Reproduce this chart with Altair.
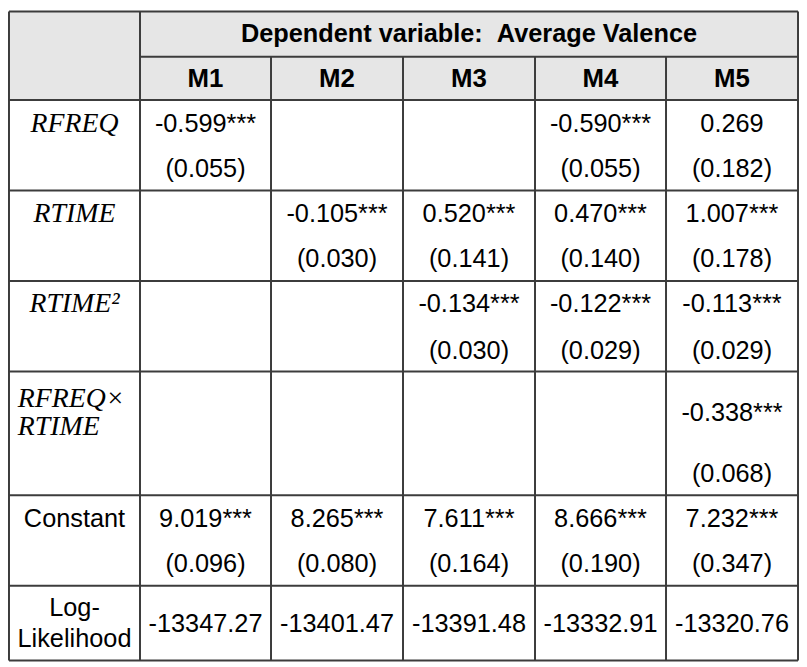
import altair as alt
import pandas as pd

# ---------------- data ----------------
MODELS = ["M1", "M2", "M3", "M4", "M5"]
DEPVAR = "Dependent variable:\u00a0\u00a0Average Valence"
ROW_LABELS = ["RFREQ", "RTIME", "RTIME²", "RFREQ×\nRTIME", "Constant", "Log-\nLikelihood"]
RFREQ_COEF = ["-0.599***", "", "", "-0.590***", "0.269"]
RFREQ_SE = ["(0.055)", "", "", "(0.055)", "(0.182)"]
RTIME_COEF = ["", "-0.105***", "0.520***", "0.470***", "1.007***"]
RTIME_SE = ["", "(0.030)", "(0.141)", "(0.140)", "(0.178)"]
RTIME2_COEF = ["", "", "-0.134***", "-0.122***", "-0.113***"]
RTIME2_SE = ["", "", "(0.030)", "(0.029)", "(0.029)"]
INTER_COEF = ["", "", "", "", "-0.338***"]
INTER_SE = ["", "", "", "", "(0.068)"]
CONST_COEF = ["9.019***", "8.265***", "7.611***", "8.666***", "7.232***"]
CONST_SE = ["(0.096)", "(0.080)", "(0.164)", "(0.190)", "(0.347)"]
LOGLIK = ["-13347.27", "-13401.47", "-13391.48", "-13332.91", "-13320.76"]

# ---------------- layout (table geometry in layout units) ----------------
COL_EDGES = [2, 135, 268, 402, 536, 669, 803]
ROW_EDGES = [2, 48, 92, 184, 276, 368, 494, 586, 662]
COL_CENTERS = [(COL_EDGES[i] + COL_EDGES[i + 1]) / 2 for i in range(6)]

cells = []
cells.append(dict(x=(COL_EDGES[1] + COL_EDGES[6]) / 2, y=25, text=DEPVAR, kind="head"))
for i, m in enumerate(MODELS):
    cells.append(dict(x=COL_CENTERS[i + 1], y=71, text=m, kind="mhead"))

row_specs = [
    (RFREQ_COEF, RFREQ_SE, ROW_EDGES[2] + 24, ROW_EDGES[2] + 70),
    (RTIME_COEF, RTIME_SE, ROW_EDGES[3] + 24, ROW_EDGES[3] + 70),
    (RTIME2_COEF, RTIME2_SE, ROW_EDGES[4] + 24, ROW_EDGES[4] + 71),
    (INTER_COEF, INTER_SE, ROW_EDGES[5] + 42, ROW_EDGES[5] + 104),
    (CONST_COEF, CONST_SE, ROW_EDGES[6] + 24, ROW_EDGES[6] + 70),
]
for coefs, ses, cy, sy in row_specs:
    for i in range(5):
        if coefs[i]:
            cells.append(dict(x=COL_CENTERS[i + 1], y=cy, text=coefs[i], kind="val"))
        if ses[i]:
            cells.append(dict(x=COL_CENTERS[i + 1], y=sy, text=ses[i], kind="val"))
for i in range(5):
    cells.append(dict(x=COL_CENTERS[i + 1], y=ROW_EDGES[7] + 39, text=LOGLIK[i], kind="val"))

cells.append(dict(x=COL_CENTERS[0], y=ROW_EDGES[2] + 24, text=ROW_LABELS[0], kind="ital"))
cells.append(dict(x=COL_CENTERS[0], y=ROW_EDGES[3] + 24, text=ROW_LABELS[1], kind="ital"))
cells.append(dict(x=COL_CENTERS[0], y=ROW_EDGES[4] + 24, text=ROW_LABELS[2], kind="ital"))
for k, line in enumerate(ROW_LABELS[3].split("\n")):
    cells.append(dict(x=COL_EDGES[0] + 9, y=ROW_EDGES[5] + 28 + 29 * k, text=line, kind="ital_left"))
cells.append(dict(x=COL_CENTERS[0], y=ROW_EDGES[6] + 24, text=ROW_LABELS[4], kind="lab"))
for k, line in enumerate(ROW_LABELS[5].split("\n")):
    cells.append(dict(x=COL_CENTERS[0], y=ROW_EDGES[7] + 23 + 31 * k, text=line, kind="lab"))

cells_df = pd.DataFrame(cells)

lines = []
lines.append(dict(x=COL_EDGES[0], x2=COL_EDGES[6], y=ROW_EDGES[0], y2=ROW_EDGES[0]))
lines.append(dict(x=COL_EDGES[1], x2=COL_EDGES[6], y=ROW_EDGES[1], y2=ROW_EDGES[1]))
for r in ROW_EDGES[2:]:
    lines.append(dict(x=COL_EDGES[0], x2=COL_EDGES[6], y=r, y2=r))
lines.append(dict(x=COL_EDGES[0], x2=COL_EDGES[0], y=ROW_EDGES[0], y2=ROW_EDGES[-1]))
lines.append(dict(x=COL_EDGES[1], x2=COL_EDGES[1], y=ROW_EDGES[0], y2=ROW_EDGES[-1]))
lines.append(dict(x=COL_EDGES[6], x2=COL_EDGES[6], y=ROW_EDGES[0], y2=ROW_EDGES[-1]))
for c in COL_EDGES[2:6]:
    lines.append(dict(x=c, x2=c, y=ROW_EDGES[1], y2=ROW_EDGES[-1]))
lines_df = pd.DataFrame(lines)

header_df = pd.DataFrame([dict(x=COL_EDGES[0], x2=COL_EDGES[6], y=ROW_EDGES[0], y2=ROW_EDGES[2])])

xs = alt.Scale(domain=[1, 804], nice=False, zero=False)
ys = alt.Scale(domain=[1, 663], nice=False, zero=False, reverse=True)

X = alt.X("x:Q", scale=xs, axis=None)
Y = alt.Y("y:Q", scale=ys, axis=None)

header_bg = alt.Chart(header_df).mark_rect(color="#e6e6e6").encode(
    x=X, x2="x2:Q", y=Y, y2="y2:Q"
)
grid = alt.Chart(lines_df).mark_rule(color="#3c3c3c", strokeWidth=2).encode(
    x=X, x2="x2:Q", y=Y, y2="y2:Q"
)

base = alt.Chart(cells_df)
sans = "Liberation Sans"
serif = "Liberation Serif"


def txt(kind, **kw):
    return base.transform_filter(alt.datum.kind == kind).mark_text(
        color="#000000", baseline="middle", **kw
    ).encode(x=X, y=Y, text="text:N")


t_head = txt("head", font=sans, fontSize=25.5, fontWeight="bold", align="center")
t_mhead = txt("mhead", font=sans, fontSize=26, fontWeight="bold", align="center")
t_val = txt("val", font=sans, fontSize=25.5, align="center")
t_lab = txt("lab", font=sans, fontSize=25.5, align="center")
t_ital = txt("ital", font=serif, fontSize=28, fontStyle="italic", align="center")
t_ital_left = txt("ital_left", font=serif, fontSize=28, fontStyle="italic", align="left")

chart = alt.layer(header_bg, grid, t_head, t_mhead, t_val, t_lab, t_ital, t_ital_left).properties(
    width=797, height=656, padding=0, autosize=alt.AutoSizeParams(type="none"),
    background="#ffffff"
).configure_view(stroke=None)

chart.save("out.html", embed_options={"renderer": "svg", "actions": False})
